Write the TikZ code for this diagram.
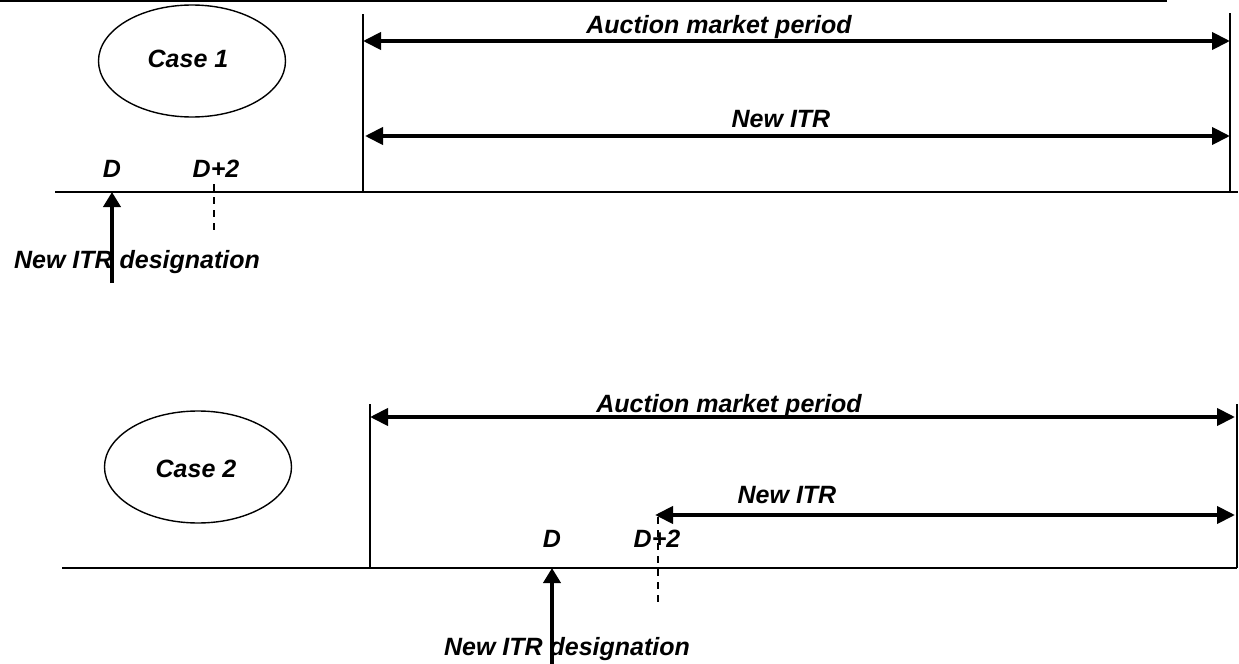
\documentclass[tikz,border=0pt]{standalone}
\usepackage{fontspec}
\setmainfont{Liberation Sans}
\usetikzlibrary{positioning, arrows.meta, shapes.geometric, calc}

\begin{document}
\begin{tikzpicture}[
        x=0.5pt, y=-0.5pt,
        label/.style={
            font=\fontsize{12.5}{15}\selectfont\bfseries\itshape,
            inner sep=0pt,
            anchor=base
        },
        casebox/.style={
            ellipse,
            draw,
            line width=0.7pt,
            minimum width=93.5pt,
            minimum height=56pt,
            inner sep=0pt
        },
        axis/.style={
            line width=1pt
        },
        span/.style={
            {Triangle[length=9pt,width=8.5pt]}-{Triangle[length=9pt,width=8.5pt]},
            line width=2pt
        },
        uparrow/.style={
            -{Triangle[length=7.5pt,width=8.5pt]},
            line width=2pt
        },
        tick/.style={
            dash pattern=on 3.5pt off 3pt,
            line width=1.3pt
        }
    ]

    \useasboundingbox (0,0) rectangle (1239,664);

    % --------------------------------------------------------
    % Case 1
    % --------------------------------------------------------

    \coordinate (topL) at (0,1);
    \coordinate (topR) at (1167,1);
    \draw[axis] (topL) -- (topR);

    \node[casebox] (case1) at (192,61) {};
    \node[label] (case1txt) at (188,68) {Case 1};

    \coordinate (base1L) at (55,192);
    \coordinate (base1R) at (1238,192);
    \coordinate (start1) at (363,192);
    \coordinate (end1) at (1230,192);
    \coordinate (start1top) at (363,14);
    \coordinate (end1top) at (1230,13);

    \draw[axis] (base1L) -- (base1R);
    \draw[axis] (start1) -- (start1top);
    \draw[axis] (end1) -- (end1top);

    \coordinate (auction1L) at (363,41);
    \coordinate (auction1R) at (1230,41);
    \draw[span] (auction1L) -- (auction1R);
    \node[label] (auction1txt) at (719,33) {Auction market period};

    \coordinate (itr1L) at (365,136);
    \coordinate (itr1R) at (1230,136);
    \draw[span] (itr1L) -- (itr1R);
    \node[label] (itr1txt) at (781,127) {New ITR};

    \node[label] (d1) at (112,177) {D};
    \node[label] (dtwo1) at (216,177) {D+2};

    \coordinate (arrow1foot) at (112,283);
    \coordinate (arrow1head) at (112,192);
    \draw[uparrow] (arrow1foot) -- (arrow1head);

    \coordinate (tick1top) at (214,184);
    \coordinate (tick1bot) at (214,234);
    \draw[tick] (tick1top) -- (tick1bot);

    \node[label] (desig1) at (137,268) {New ITR designation};

    % --------------------------------------------------------
    % Case 2
    % --------------------------------------------------------

    \node[casebox] (case2) at (198,467) {};
    \node[label] (case2txt) at (196,477) {Case 2};

    \coordinate (base2L) at (62,568);
    \coordinate (base2R) at (1237,568);
    \coordinate (start2) at (370,568);
    \coordinate (end2) at (1237,568);
    \coordinate (start2top) at (370,404);
    \coordinate (end2top) at (1237,404);

    \draw[axis] (base2L) -- (base2R);
    \draw[axis] (start2) -- (start2top);
    \draw[axis] (end2) -- (end2top);

    \coordinate (auction2L) at (370,417);
    \coordinate (auction2R) at (1235,417);
    \draw[span] (auction2L) -- (auction2R);
    \node[label] (auction2txt) at (729,412) {Auction market period};

    \coordinate (itr2L) at (655,515);
    \coordinate (itr2R) at (1235,515);
    \draw[span] (itr2L) -- (itr2R);
    \node[label] (itr2txt) at (787,503) {New ITR};

    \node[label] (d2) at (552,547) {D};
    \node[label] (dtwo2) at (657,547) {D+2};

    \coordinate (arrow2foot) at (552,664);
    \coordinate (arrow2head) at (552,568);
    \draw[uparrow] (arrow2foot) -- (arrow2head);

    \coordinate (tick2top) at (658,517);
    \coordinate (tick2bot) at (658,604);
    \draw[tick] (tick2top) -- (tick2bot);

    \node[label] (desig2) at (567,655) {New ITR designation};

    \end{tikzpicture}
\end{document}
